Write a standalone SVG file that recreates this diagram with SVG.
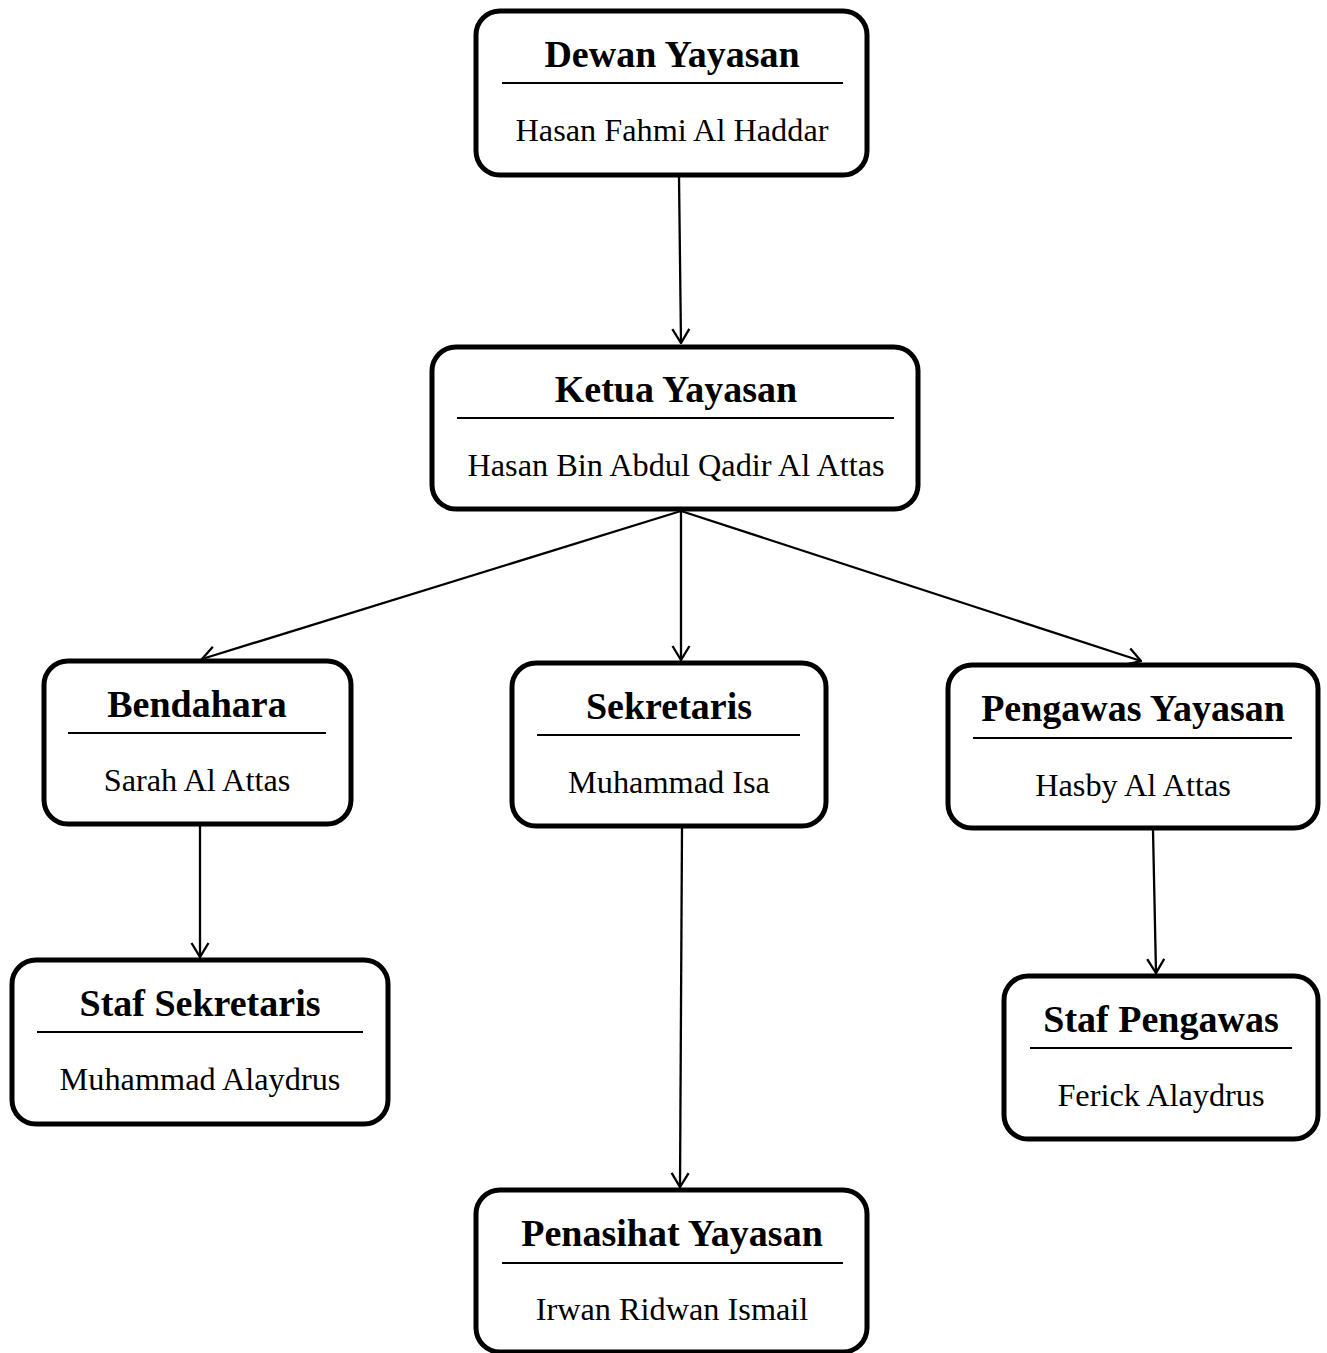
<svg xmlns="http://www.w3.org/2000/svg" width="1327" height="1353" viewBox="0 0 1327 1353">
<style>
.box{fill:#fff;stroke:#000;stroke-width:5}
.sep{stroke:#000;stroke-width:2}
.t{font-family:"Liberation Serif","Times New Roman",serif;font-weight:bold;font-size:38px;text-anchor:middle;fill:#000}
.s{font-family:"Liberation Serif","Times New Roman",serif;font-size:32.3px;text-anchor:middle;fill:#000}
.c{stroke:#000;stroke-width:2.3;fill:none;marker-end:url(#arr)}
</style>
<defs>
<marker id="arr" viewBox="0 0 16 20" refX="15" refY="10" markerWidth="16" markerHeight="20" markerUnits="userSpaceOnUse" orient="auto">
<path d="M1,1.5 L15,10 L1,18.5" fill="none" stroke="#000" stroke-width="2.3"/>
</marker>
</defs>
<g id="connectors">
<line class="c" x1="679" y1="177" x2="681" y2="343"/>
<line class="c" x1="681" y1="511" x2="202" y2="659"/>
<line class="c" x1="681" y1="511" x2="681" y2="660"/>
<line class="c" x1="681" y1="511" x2="1141" y2="661"/>
<line class="c" x1="200" y1="826" x2="200" y2="957"/>
<line class="c" x1="682" y1="828" x2="680" y2="1187"/>
<line class="c" x1="1153" y1="830" x2="1156" y2="973"/>
</g>
<g id="dewan">
<rect class="box" x="476" y="11" width="391" height="164" rx="24"/>
<text class="t" x="672" y="67">Dewan Yayasan</text>
<line class="sep" x1="502" y1="83" x2="843" y2="83"/>
<text class="s" x="672" y="141">Hasan Fahmi Al Haddar</text>
</g>
<g id="ketua">
<rect class="box" x="432" y="347" width="486" height="162" rx="24"/>
<text class="t" x="676" y="402">Ketua Yayasan</text>
<line class="sep" x1="457" y1="418" x2="894" y2="418"/>
<text class="s" x="676" y="476">Hasan Bin Abdul Qadir Al Attas</text>
</g>
<g id="bendahara">
<rect class="box" x="44" y="661" width="307" height="163" rx="24"/>
<text class="t" x="197" y="717">Bendahara</text>
<line class="sep" x1="68" y1="733" x2="326" y2="733"/>
<text class="s" x="197" y="791">Sarah Al Attas</text>
</g>
<g id="sekretaris">
<rect class="box" x="512" y="663" width="314" height="163" rx="24"/>
<text class="t" x="669" y="719">Sekretaris</text>
<line class="sep" x1="537" y1="735" x2="800" y2="735"/>
<text class="s" x="669" y="793">Muhammad Isa</text>
</g>
<g id="pengawas">
<rect class="box" x="948" y="665" width="370" height="163" rx="24"/>
<text class="t" x="1133" y="721">Pengawas Yayasan</text>
<line class="sep" x1="973" y1="738" x2="1292" y2="738"/>
<text class="s" x="1133" y="796">Hasby Al Attas</text>
</g>
<g id="staf-sekretaris">
<rect class="box" x="12" y="960" width="376" height="164" rx="24"/>
<text class="t" x="200" y="1016">Staf Sekretaris</text>
<line class="sep" x1="37" y1="1032" x2="363" y2="1032"/>
<text class="s" x="200" y="1090">Muhammad Alaydrus</text>
</g>
<g id="staf-pengawas">
<rect class="box" x="1004" y="976" width="314" height="163" rx="24"/>
<text class="t" x="1161" y="1032">Staf Pengawas</text>
<line class="sep" x1="1030" y1="1048" x2="1292" y2="1048"/>
<text class="s" x="1161" y="1106">Ferick Alaydrus</text>
</g>
<g id="penasihat">
<rect class="box" x="476" y="1190" width="391" height="162" rx="24"/>
<text class="t" x="672" y="1246">Penasihat Yayasan</text>
<line class="sep" x1="502" y1="1263" x2="843" y2="1263"/>
<text class="s" x="672" y="1320">Irwan Ridwan Ismail</text>
</g>
</svg>
